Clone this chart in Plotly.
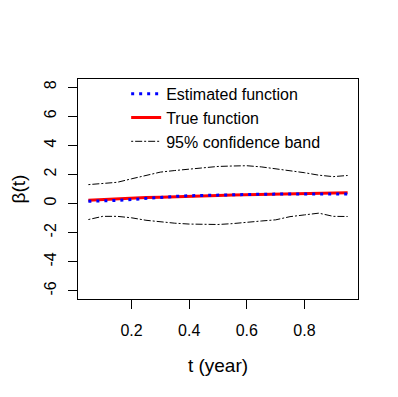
import plotly.graph_objects as go

t = [0.05, 0.10, 0.15, 0.20, 0.25, 0.30, 0.35, 0.40, 0.45, 0.50,
     0.55, 0.60, 0.65, 0.70, 0.75, 0.80, 0.85, 0.90, 0.95]
estimated = [0.16, 0.17, 0.22, 0.28, 0.36, 0.45, 0.49, 0.54, 0.57, 0.58,
             0.62, 0.63, 0.64, 0.65, 0.65, 0.66, 0.66, 0.65, 0.66]
true_fn = [0.22, 0.28, 0.33, 0.37, 0.41, 0.44, 0.48, 0.51, 0.53, 0.56,
           0.58, 0.60, 0.62, 0.64, 0.66, 0.68, 0.70, 0.72, 0.74]
upper = [1.30, 1.40, 1.46, 1.70, 1.92, 2.16, 2.27, 2.37, 2.48, 2.55,
         2.58, 2.60, 2.52, 2.40, 2.28, 2.12, 1.95, 1.85, 1.93]
lower = [-1.10, -0.88, -0.88, -0.98, -1.15, -1.27, -1.35, -1.41, -1.43, -1.44,
         -1.38, -1.27, -1.20, -1.12, -0.90, -0.78, -0.66, -0.88, -0.89]

x_ticks = [0.2, 0.4, 0.6, 0.8]
y_ticks = [-6, -4, -2, 0, 2, 4, 6, 8]

FONT = "Arial, Liberation Sans, sans-serif"
band_dash = "2px,2px,7px,2px"

fig = go.Figure()
fig.add_trace(go.Scatter(x=t, y=true_fn, mode="lines", name="True function",
                         legendrank=2, line=dict(color="red", width=3)))
fig.add_trace(go.Scatter(x=t, y=estimated, mode="lines", name="Estimated function",
                         legendrank=1,
                         line=dict(color="blue", width=3, dash="3px,5px")))
fig.add_trace(go.Scatter(x=t, y=upper, mode="lines", name="95% confidence band",
                         legendrank=3,
                         line=dict(color="black", width=1, dash=band_dash)))
fig.add_trace(go.Scatter(x=t, y=lower, mode="lines", name="95% confidence band",
                         showlegend=False,
                         line=dict(color="black", width=1, dash=band_dash)))

# page body has an 8px default margin; figure is sized to fill the rest
fig.update_layout(
    width=390, height=389,
    margin=dict(l=70, r=40, t=71, b=98, autoexpand=False),
    paper_bgcolor="white", plot_bgcolor="white",
    font=dict(family=FONT, size=16, color="black"),
    showlegend=True,
    legend=dict(x=0.172, y=1.01, xanchor="left", yanchor="top",
                bgcolor="rgba(0,0,0,0)", borderwidth=0,
                font=dict(size=16), itemwidth=30, tracegroupgap=0,
                traceorder="normal"),
    xaxis=dict(range=[0.014, 0.986], tickvals=x_ticks,
               ticktext=[str(v) for v in x_ticks], automargin=False,
               showgrid=False, zeroline=False, showline=True, mirror=True,
               linecolor="black", linewidth=1, ticks="outside", ticklen=9,
               tickcolor="black", ticklabelstandoff=8,
               title=dict(text="t (year)", standoff=20)),
    yaxis=dict(range=[-6.56, 8.56], tickvals=y_ticks,
               ticktext=[str(v) for v in y_ticks], tickangle=-90,
               automargin=False,
               showgrid=False, zeroline=False, showline=True, mirror=True,
               linecolor="black", linewidth=1, ticks="outside", ticklen=9,
               tickcolor="black", ticklabelstandoff=6,
               title=dict(text="β(t)", standoff=24)),
)

fig.write_html("out.html")
